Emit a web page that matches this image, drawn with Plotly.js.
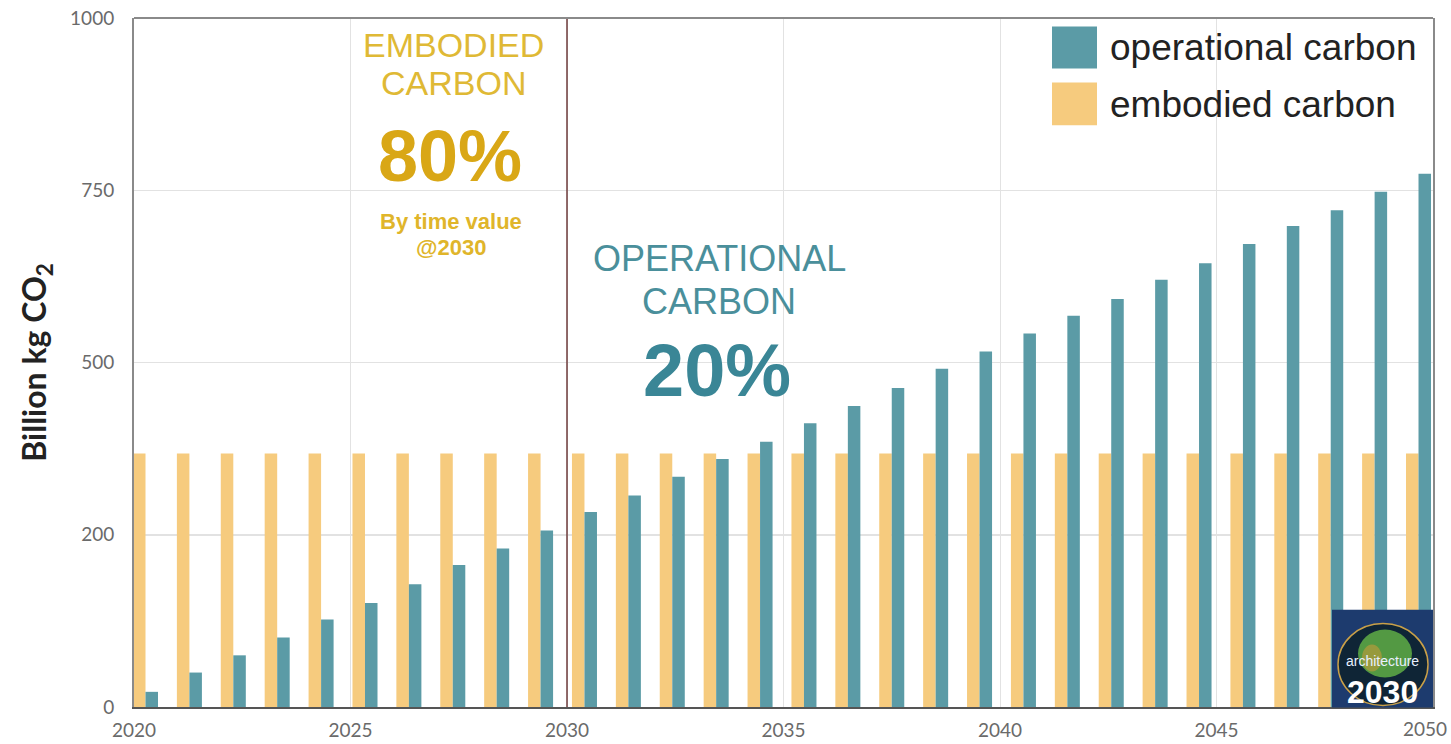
<!DOCTYPE html>
<html>
<head>
<meta charset="utf-8">
<script src="https://cdn.plot.ly/plotly-3.0.1.min.js"></script>
<style>html,body{margin:0;padding:0;background:#fff;}#chart{width:1451px;height:744px;}</style>
</head>
<body>
<div id="chart"></div>
<script>
// ---- data ----
const years = [2020,2021,2022,2023,2024,2025,2026,2027,2028,2029,2030,2031,2032,2033,2034,2035,2036,2037,2038,2039,2040,2041,2042,2043,2044,2045,2046,2047,2048,2049];
const embodied = [368,368,368,368,368,368,368,368,368,368,368,368,368,368,368,368,368,368,368,368,368,368,368,368,368,368,368,368,368,368];
const operational = [22,50,75,101,127,151,178,206,230,256,283,307,334,360,385,412,437,463,491,516,542,568,592,620,644,672,698,721,748,774];
const xTickVals = [2020,2025,2030,2035,2040,2045,2050];
const yTickVals = [0,250,500,750,1000];
const yTickText = ['0','200','500','750','1000'];
const seriesNames = ['embodied carbon','operational carbon'];

// ---- layout helpers (pixel -> paper) ----
const W = 1451, H = 744;
const M = {l:134, r:18, t:17.5, b:36.5};
const PW = W - M.l - M.r, PH = H - M.t - M.b;
const px = x => (x - M.l) / PW;
const py = y => (H - M.b - y) / PH;

const cTeal = '#5b9ba6', cGold = '#f6cb7e';
const font = 'Liberation Sans, Arial, sans-serif';
const tickFont = {family:'Lato, sans-serif', size:19, color:'#6a6a6a'};

const traces = [
  {type:'bar', name:seriesNames[0], x:years, y:embodied, xaxis:'x2', yaxis:'y',
   marker:{color:cGold}, showlegend:false, hoverinfo:'x+y'},
  {type:'bar', name:seriesNames[1], x:years, y:operational, xaxis:'x2', yaxis:'y',
   marker:{color:cTeal}, showlegend:false, hoverinfo:'x+y'},
  {type:'scatter', x:[xTickVals[0], xTickVals[xTickVals.length-1]], y:[0,0], mode:'none', xaxis:'x', yaxis:'y', showlegend:false, hoverinfo:'skip'}
];

const ann = [];
function txt(t, x, y, size, color, bold, xanchor){
  ann.push({text:t, xref:'paper', yref:'paper', x:px(x), y:py(y), xanchor:xanchor||'center', yanchor:'middle',
    showarrow:false, font:{family:font, size:size, color:color, weight: bold?700:400}});
}
txt('EMBODIED', 453, 45, 34, '#dfb935', false);
txt('CARBON', 453, 83, 34, '#dfb935', false);
txt('80%', 450, 156, 72, '#d9a716', true);
txt('By time value', 451, 221, 22, '#e0b52a', true);
txt('@2030', 451, 247, 22, '#e0b52a', true);
txt('OPERATIONAL', 719, 258, 36, '#4a8f9b', false);
txt('CARBON', 719, 301, 36, '#4a8f9b', false);
txt('20%', 717, 371, 74, '#3a8696', true);
// legend
txt('operational carbon', 1108, 47, 37, '#222', false, 'left');
txt('embodied carbon', 1108, 104, 37, '#222', false, 'left');
// logo text
txt('architecture', 1382, 661, 14, '#e8f0ff', false);
txt('2030', 1382, 692, 32, '#ffffff', true);
// last x tick label, kept inside the page edge
ann.push({text:String(xTickVals[xTickVals.length-1]), xref:'paper', yref:'paper', x:px(1425), y:py(729), xanchor:'center', yanchor:'middle',
  showarrow:false, font:tickFont});

const shapes = [
  {type:'line', xref:'x', yref:'paper', x0:2030, x1:2030, y0:0, y1:1, line:{color:'#6e3b3b', width:1.5}, layer:'above'},
  {type:'line', xref:'paper', yref:'paper', x0:0, x1:1, y0:1, y1:1, line:{color:'#8a8a8a', width:2}},
  {type:'rect', xref:'paper', yref:'paper', x0:px(1052), x1:px(1097), y0:py(68), y1:py(26), fillcolor:cTeal, line:{width:0}},
  {type:'rect', xref:'paper', yref:'paper', x0:px(1052), x1:px(1097), y0:py(125), y1:py(82), fillcolor:cGold, line:{width:0}},
  {type:'rect', xref:'paper', yref:'paper', x0:px(1332), x1:px(1433), y0:py(708), y1:py(610), fillcolor:'#1d3b6e', line:{width:0}, layer:'above'},
  {type:'circle', xref:'paper', yref:'paper', x0:px(1338), x1:px(1428), y0:py(706), y1:py(624), fillcolor:'#0f2536', line:{color:'#c9a048', width:1.5}, layer:'above'},
  {type:'circle', xref:'paper', yref:'paper', x0:px(1358), x1:px(1412), y0:py(678), y1:py(630), fillcolor:'#5fae45', opacity:0.85, line:{width:0}, layer:'above'},
  {type:'circle', xref:'paper', yref:'paper', x0:px(1362), x1:px(1382), y0:py(672), y1:py(645), fillcolor:'#b59a3a', opacity:0.7, line:{width:0}, layer:'above'}
];

const layout = {
  width:W, height:H,
  margin:{l:M.l, r:M.r, t:M.t, b:M.b, pad:0},
  paper_bgcolor:'#fff', plot_bgcolor:'#fff',
  barmode:'group', bargap:0.43, bargroupgap:0,
  showlegend:false,
  xaxis:{range:[2020,2050], tickvals:xTickVals.slice(0,-1), ticks:'', showgrid:true, gridcolor:'#e2e2e2', gridwidth:1,
    showline:true, linecolor:'#555', linewidth:1.5, zeroline:false, automargin:false,
    tickfont:tickFont, ticklabelstandoff:6, fixedrange:true},
  xaxis2:{overlaying:'x', range:[2019.738, 2049.33], visible:false, showgrid:false, zeroline:false},
  yaxis:{range:[0,1000], tickvals:yTickVals, ticktext:yTickText, ticks:'', showgrid:true, gridcolor:'#e2e2e2', gridwidth:1.5,
    showline:true, mirror:true, linecolor:'#8a8a8a', linewidth:2, zeroline:false, automargin:false,
    tickfont:tickFont, ticklabelstandoff:14,
    title:{text:'Billion kg CO<sub>2</sub>', font:{family:'Lato, sans-serif', size:32, color:'#222', weight:700}, standoff:14}},
  annotations:ann, shapes:shapes
};

Plotly.newPlot('chart', traces, layout, {displayModeBar:false, staticPlot:true});
</script>
</body>
</html>
